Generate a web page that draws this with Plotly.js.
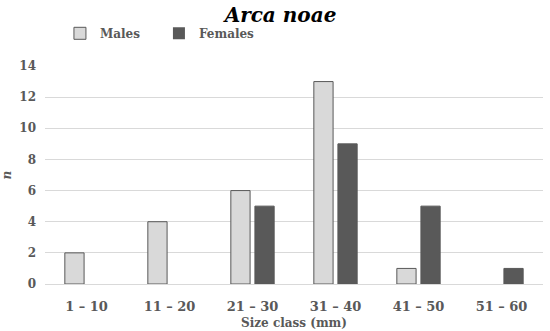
<!DOCTYPE html>
<html>
<head>
<meta charset="utf-8">
<script src="https://cdn.plot.ly/plotly-3.0.1.min.js"></script>
<style>html,body{margin:0;padding:0;background:#fff}#chart{width:550px;height:331px}</style>
</head>
<body>
<div id="chart"></div>
<script>
var categories = ["1 – 10", "11 – 20", "21 – 30", "31 – 40", "41 – 50", "51 – 60"];
var males = [2, 4, 6, 13, 1, 0];
var females = [0, 0, 5, 9, 5, 1];
var yTicks = [0, 2, 4, 6, 8, 10, 12, 14];

var serif = "'DejaVu Serif', 'Liberation Serif', serif";
function lw(vals){ return vals.map(function(v){ return v === 0 ? 0 : 1; }); }
var data = [
  {type: "bar", name: "Males", x: categories, y: males,
   marker: {color: "#d9d9d9", line: {color: "#595959", width: lw(males)}}},
  {type: "bar", name: "Females", x: categories, y: females,
   marker: {color: "#595959", line: {color: "#595959", width: lw(females)}}}
];
var layout = {
  width: 550, height: 331,
  margin: {l: 45, r: 7, t: 66, b: 47},
  paper_bgcolor: "#fff", plot_bgcolor: "#fff",
  font: {family: serif, color: "#595959", size: 12},
  title: {text: "<b><i>Arca noae</i></b>", font: {family: serif, size: 20, color: "#000"},
          x: 0.51, xref: "container", xanchor: "center", y: 0.955, yref: "container", yanchor: "middle"},
  barmode: "group", bargap: 0.42, bargroupgap: 0.2,
  showlegend: true,
  legend: {orientation: "h", x: 0.03, xanchor: "left", y: 1.15, yanchor: "middle",
           font: {family: serif, size: 12, color: "#595959", weight: "bold"},
           bgcolor: "rgba(0,0,0,0)", itemwidth: 30, entrywidth: 54, entrywidthmode: "pixels",
           traceorder: "normal"},
  xaxis: {type: "category", showgrid: false, showline: true, linecolor: "#d9d9d9", linewidth: 1,
          ticks: "", tickfont: {family: serif, size: 13, color: "#595959", weight: "bold"},
          ticklabelstandoff: 10,
          title: {text: "<b>Size class (mm)</b>", font: {family: serif, size: 12, color: "#595959"}, standoff: 6}},
  yaxis: {range: [0, 14], tickvals: yTicks, showgrid: true, gridcolor: "#d9d9d9", gridwidth: 1,
          zeroline: false, showline: false, ticks: "",
          tickfont: {family: serif, size: 12, color: "#595959", weight: "bold"},
          ticklabelstandoff: 8,
          title: {text: "<b><i>n</i></b>", font: {family: serif, size: 12, color: "#595959"}, standoff: 10}}
};
Plotly.newPlot("chart", data, layout, {displayModeBar: false, staticPlot: true});
</script>
</body>
</html>
